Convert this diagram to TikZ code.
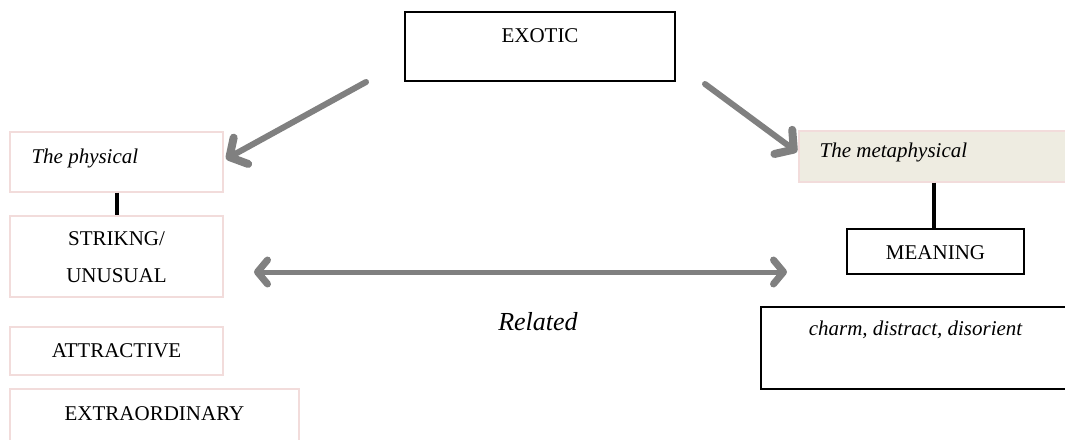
\documentclass[tikz,border=0pt]{standalone}
\usepackage{fontspec}
\setmainfont{Liberation Serif}
\usetikzlibrary{arrows.meta, calc, positioning}
\definecolor{cgrey}{HTML}{808080}
\definecolor{cpink}{HTML}{F2DCDB}
\definecolor{ctan}{HTML}{EEECE1}

\begin{document}
\begin{tikzpicture}[
  x=1pt, y=-1pt,
  pinkbox/.style={
    rectangle, draw=cpink, line width=1.4pt, inner sep=0pt
  },
  blackbox/.style={
    rectangle, draw=black, line width=1.6pt, inner sep=0pt
  },
  tanbox/.style={
    rectangle, draw=cpink, fill=ctan, line width=1.2pt, inner sep=0pt
  },
  stem/.style={draw=black, line width=4.5pt},
  garrow/.style={-{Straight Barb[length=13pt, width=30pt, line width=2pt 1, round]}, draw=cgrey, line width=6pt, line cap=round},
  gboth/.style={{Straight Barb[length=10pt, width=24pt, line width=2pt 1, round]}-{Straight Barb[length=10pt, width=24pt, line width=2pt 1, round]}, draw=cgrey, line width=5pt},
  txt/.style={font=\fontsize{21}{25}\selectfont, inner sep=0pt},
  txti/.style={font=\fontsize{21}{25}\selectfont\itshape, inner sep=0pt}
]
\useasboundingbox (0,0) rectangle (1065,439);

% ============================================================
% Top box
\node[blackbox, minimum width=270pt, minimum height=69pt] (exotic) at (540, 46.5) {};
\node[txt] at ($(exotic.center)+(0,-11)$) {EXOTIC};

% ============================================================
% Left column: the physical side
\node[pinkbox, minimum width=213pt, minimum height=60pt] (phys) at (116.5, 162) {};
\node[txti, anchor=west] at ($(phys.west)+(22,-4)$) {The physical};

\node[pinkbox, minimum width=213pt, minimum height=81pt] (strik) at (116.5, 256.5) {};
\node[txt, align=center, font=\fontsize{21}{37}\selectfont] at ($(strik.center)+(0,1)$) {STRIKNG/\\UNUSUAL};

\node[pinkbox, minimum width=213pt, minimum height=48pt] (attr) at (116.5, 351) {};
\node[txt] at (attr.center) {ATTRACTIVE};

\node[pinkbox, minimum width=289pt, minimum height=60pt] (extra) at (154.5, 419) {};
\node[txt] at ($(extra.north)+(0,25)$) {EXTRAORDINARY};

\draw[stem] (phys.south -| 117,0) -- (strik.north -| 117,0);

% ============================================================
% Right column: the metaphysical side
\node[tanbox, minimum width=271pt, minimum height=51pt] (meta) at (934.5, 156.5) {};
\node[txti, anchor=west] at ($(meta.west)+(21,-4)$) {The metaphysical};

\node[blackbox, line width=1.3pt, minimum width=177pt, minimum height=45pt] (meaning) at (935.5, 251.5) {};
\node[txt] at ($(meaning.center)+(0,1)$) {MEANING};

\node[blackbox, minimum width=309pt, minimum height=82pt] (charm) at (915.5, 348) {};
\node[txti] at ($(charm.north)+(0,24)$) {charm, distract, disorient};

\draw[stem] (meta.south -| 934,0) -- (meaning.north -| 934,0);

% ============================================================
% Grey arrows
\coordinate (lstart) at (366, 82);
\coordinate (lend)   at (226, 159);
\coordinate (rstart) at (705, 84);
\coordinate (rend)   at (797, 152);
\draw[garrow] (lstart) -- (lend);
\draw[garrow] (rstart) -- (rend);

\coordinate (bl) at (254, 272);
\coordinate (br) at (787, 272);
\draw[gboth] (bl) -- (br);
\node[txti, font=\fontsize{26}{30}\selectfont\itshape] (rel) at (538, 322) {Related};

\end{tikzpicture}
\end{document}
